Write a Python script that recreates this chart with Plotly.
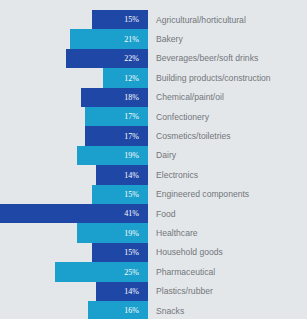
import plotly.graph_objects as go

categories = [
    "Agricultural/horticultural", "Bakery", "Beverages/beer/soft drinks",
    "Building products/construction", "Chemical/paint/oil", "Confectionery",
    "Cosmetics/toiletries", "Dairy", "Electronics", "Engineered components",
    "Food", "Healthcare", "Household goods", "Pharmaceutical",
    "Plastics/rubber", "Snacks",
]
values = [15, 21, 22, 12, 18, 17, 17, 19, 14, 15, 41, 19, 15, 25, 14, 16]

DARK = "#1f47a6"
TEAL = "#1b9fcc"
colors = [DARK if i % 2 == 0 else TEAL for i in range(len(values))]

fig = go.Figure(go.Bar(
    x=values, y=categories, orientation="h",
    marker=dict(color=colors, line=dict(width=0)),
    texttemplate="%{x}%\u00a0\u00a0\u00a0", textposition="inside", insidetextanchor="start",
    textfont=dict(color="white", size=8, family="Liberation Serif"),
    cliponaxis=True, hoverinfo="skip",
))

fig.update_layout(
    width=307, height=319,
    margin=dict(l=0, r=159, t=0, b=0, pad=0),
    paper_bgcolor="#e4e7ea", plot_bgcolor="#e4e7ea",
    bargap=0, showlegend=False,
    xaxis=dict(range=[39.7, 0], visible=False, fixedrange=True),
    yaxis=dict(
        type="category", range=[15.43, -1.015], side="right",
        showgrid=False, zeroline=False, showline=False, ticks="",
        ticklabelstandoff=7,
        tickfont=dict(family="Liberation Sans", size=8.6, color="#72767a"),
    ),
    uniformtext=dict(minsize=6, mode="show"),
)

fig.write_html(
    "out.html",
    config={"displayModeBar": False},
    post_script="document.body.style.margin='0';document.body.style.background='#e4e7ea';",
)
